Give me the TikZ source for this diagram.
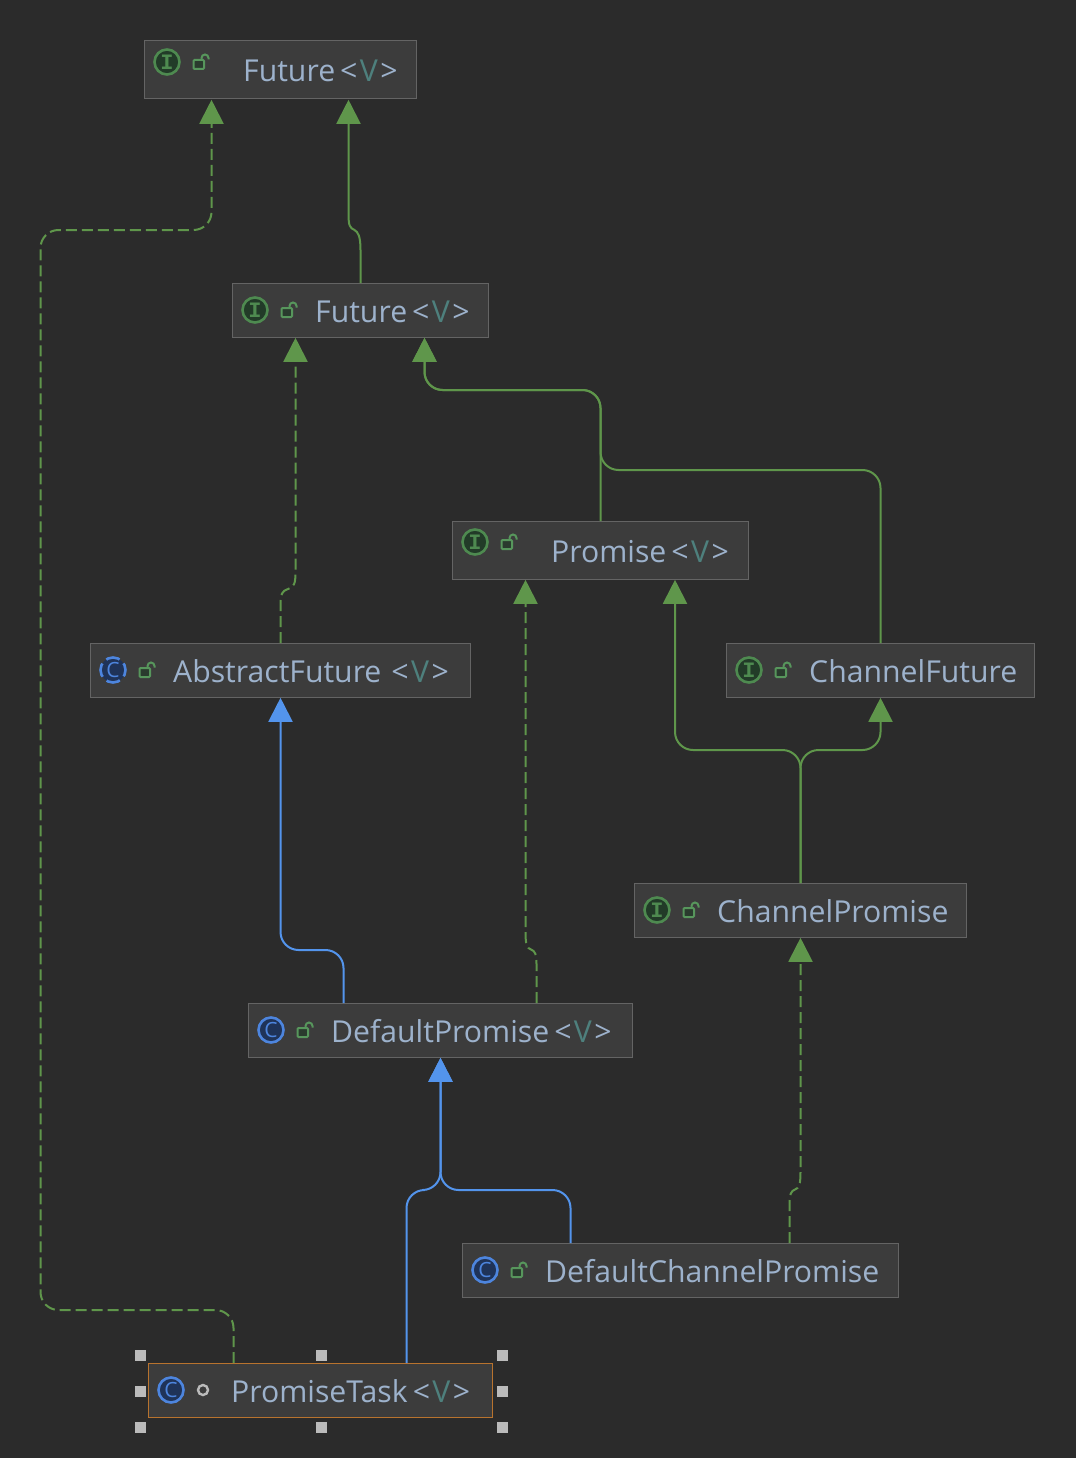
\documentclass[tikz,border=0pt]{standalone}
\usepackage{fontspec}
\setmainfont{Open Sans}
\newfontfamily\iconfont{Liberation Mono}
\usetikzlibrary{arrows.meta,calc}
\definecolor{bgc}{HTML}{2B2B2B}
\definecolor{boxc}{HTML}{3C3C3C}
\definecolor{edgec}{HTML}{646464}
\definecolor{grn}{HTML}{5F964B}
\definecolor{blu}{HTML}{5394EC}
\definecolor{txtc}{HTML}{9DB2CC}
\definecolor{tpc}{HTML}{4E807D}
\definecolor{igrn}{HTML}{4E8A50}
\definecolor{ifill}{HTML}{223B28}
\definecolor{cblu}{HTML}{4D85DE}
\definecolor{cfill}{HTML}{1F3358}
\definecolor{lockc}{HTML}{57965C}
\definecolor{selc}{HTML}{B8732E}
\definecolor{handc}{HTML}{BBBBBB}
\tikzset{
  x=1pt,y=-1pt,
  cbox/.style={draw=edgec,line width=1pt,fill=boxc,inner sep=0pt,outer sep=0pt,anchor=north west},
  label text/.style={anchor=base west,inner sep=0pt,text=txtc,font=\fontsize{30.2}{31}\selectfont},
  iface/.style={circle,draw=igrn,fill=ifill,line width=2.6pt,minimum size=25pt,inner sep=0pt,text=igrn,font=\iconfont\bfseries\fontsize{22}{22}\selectfont},
  klass/.style={circle,draw=cblu,fill=cfill,line width=2.6pt,minimum size=25pt,inner sep=0pt,text=cblu,font=\fontsize{21}{21}\selectfont},
  inherit/.style={grn,line width=2pt,rounded corners=18pt,shorten >=0.8pt,-{Triangle[width=24pt,length=24pt]}},
  inheritb/.style={blu,line width=2pt,rounded corners=18pt,shorten >=0.8pt,-{Triangle[width=24pt,length=24pt]}},
  implement/.style={inherit,dash pattern=on 11pt off 5pt},
  handle/.style={fill=handc,minimum size=11pt,inner sep=0pt},
}
% lock icon centred at x,y
\newcommand{\lockicon}[2]{%
  \draw[lockc,line width=2pt,fill=ifill!70!boxc,rounded corners=1pt] (#1-7.5,#2-2) rectangle (#1+3,#2+7);
  \draw[lockc,line width=2pt] (#1+0.5,#2-2) -- (#1+0.5,#2-4) arc[start angle=180,end angle=0,x radius=3.5pt,y radius=3.5pt] -- (#1+7.5,#2-2.5);
}
\newcommand{\tv}[1]{#1\textcolor{txtc}{<}\hspace{2.4pt}\textcolor{tpc}{V}\hspace{2.4pt}\textcolor{txtc}{>}}
\begin{document}
\begin{tikzpicture}
\useasboundingbox[fill=bgc] (0,0) rectangle (1076,1458);

% boxes
\node[cbox,minimum width=272pt,minimum height=58pt] (f1) at (144,41) {};
\node[cbox,minimum width=256pt,minimum height=54pt] (f2) at (232,283) {};
\node[cbox,minimum width=296pt,minimum height=58pt] (pr) at (452,521) {};
\node[cbox,minimum width=380pt,minimum height=54pt] (af) at (90,643) {};
\node[cbox,minimum width=308pt,minimum height=54pt] (cf) at (726,643) {};
\node[cbox,minimum width=332pt,minimum height=54pt] (cp) at (634,883) {};
\node[cbox,minimum width=384pt,minimum height=54pt] (dp) at (248,1003) {};
\node[cbox,minimum width=436pt,minimum height=54pt] (dc) at (462,1243) {};
\node[cbox,draw=selc,minimum width=344pt,minimum height=54pt] (pt) at (148,1363) {};

% connectors
\draw[implement] ([xshift=85.5pt]pt.north west) -- (233.5,1310) -- (40.5,1310) -- (40.5,230) -- (211.5,230) -- ([xshift=67.5pt]f1.south west);
\draw[inherit,rounded corners=0pt] ([xshift=128.5pt]f2.north west) -- (360.5,250) .. controls (360.5,236) and (358,232) .. (354.5,230) .. controls (350,228) and (348.5,226) .. (348.5,214) -- ([xshift=204.5pt]f1.south west);
\draw[implement,rounded corners=0pt] ([xshift=190.5pt]af.north west) -- (280.5,604) .. controls (280.5,594) and (282,591) .. (288,589) .. controls (294,587) and (295.5,584) .. (295.5,572) -- ([xshift=63.5pt]f2.south west);
\draw[inherit] ([xshift=148.5pt]pr.north west) -- (600.5,390) -- (424.5,390) -- ([xshift=192.5pt]f2.south west);
\draw[inherit] ([xshift=154.5pt]cf.north west) -- (880.5,470) -- (600.5,470) -- (600.5,390) -- (424.5,390) -- ([xshift=192.5pt]f2.south west);
\draw[inherit] ([xshift=166.5pt]cp.north west) -- (800.5,750) -- (675,750) -- ([xshift=223pt]pr.south west);
\draw[inherit] ([xshift=166.5pt]cp.north west) -- (800.5,750) -- (880.5,750) -- ([xshift=154.5pt]cf.south west);
\draw[inheritb] ([xshift=95.5pt]dp.north west) -- (343.5,950) -- (280.5,950) -- ([xshift=190.5pt]af.south west);
\draw[implement,rounded corners=0pt] ([xshift=288.5pt]dp.north west) -- (536.5,964) .. controls (536.5,954) and (535,951) .. (531,949.5) .. controls (527,948) and (525.5,945) .. (525.5,932) -- ([xshift=73.5pt]pr.south west);
\draw[inheritb] ([xshift=258.5pt]pt.north west) -- (406.5,1190) -- (440.5,1190) -- ([xshift=192.5pt]dp.south west);
\draw[inheritb] ([xshift=108.5pt]dc.north west) -- (570.5,1190) -- (440.5,1190) -- ([xshift=192.5pt]dp.south west);
\draw[implement,rounded corners=0pt] ([xshift=327.5pt]dc.north west) -- (789.5,1204) .. controls (789.5,1194) and (791,1191) .. (795,1189.5) .. controls (799,1188) and (800.5,1185) .. (800.5,1172) -- ([xshift=166.5pt]cp.south west);

% icons
\node[iface] (i1) at (167,62) {I};   \lockicon{201}{62}
\node[iface] (i2) at (255,310) {I};  \lockicon{289}{310}
\node[iface] (i3) at (475,542) {I};  \lockicon{509}{542}
\node[klass,draw=none,fill=cfill] (i4) at (113,670) {C};
\draw[cblu,line width=2.6pt,dash pattern=on 14pt off 5.6pt,dash phase=7pt] (i4) circle[radius=12.5pt];
\lockicon{147}{670}
\node[iface] (i5) at (749,670) {I};  \lockicon{783}{670}
\node[iface] (i6) at (657,910) {I};  \lockicon{691}{910}
\node[klass] (i7) at (271,1030) {C}; \lockicon{305}{1030}
\node[klass] (i8) at (485,1270) {C}; \lockicon{519}{1270}
\node[klass] (i9) at (171,1390) {C};
\node[circle,draw=handc,line width=2.4pt,minimum size=10pt,inner sep=0pt] (o9) at (203,1390) {};

% labels
\node[label text] (l1) at (243,82)  {\tv{Future\,}};
\node[label text] (l2) at (315,322) {\tv{Future\,}};
\node[label text] (l3) at (551,562) {\tv{Promise\,}};
\node[label text] (l4) at (173,682) {\tv{AbstractFuture\,\,}};
\node[label text] (l5) at (809,682) {ChannelFuture};
\node[label text] (l6) at (717,922) {ChannelPromise};
\node[label text] (l7) at (331,1042) {\tv{DefaultPromise\,}};
\node[label text] (l8) at (545,1282) {DefaultChannelPromise};
\node[label text] (l9) at (231,1402) {\tv{PromiseTask\,}};

% selection handles
\node[handle] (h1) at (140,1355) {};
\node[handle] (h2) at (321,1355) {};
\node[handle] (h3) at (502,1355) {};
\node[handle] (h4) at (140,1391) {};
\node[handle] (h5) at (502,1391) {};
\node[handle] (h6) at (140,1427) {};
\node[handle] (h7) at (321,1427) {};
\node[handle] (h8) at (502,1427) {};
\end{tikzpicture}
\end{document}
